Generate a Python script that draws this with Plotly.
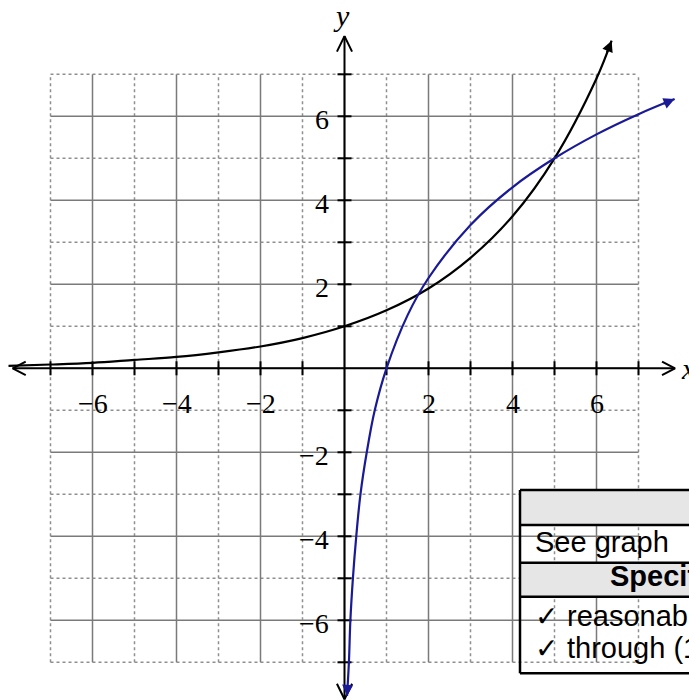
import plotly.graph_objects as go

# Exponential curve (black) and its inverse, the logarithm (blue)
exp_x = [-8.0, -7, -6, -5, -4, -3, -2, -1, 0, 1, 2, 3, 4, 5, 6, 6.36]
exp_y = [0.06, 0.09, 0.13, 0.2, 0.27, 0.38, 0.52, 0.72, 1.0, 1.38, 1.9, 2.63, 3.62, 5.0, 6.9, 7.8]

log_x = [0.06, 0.105, 0.14, 0.2, 0.28, 0.38, 0.53, 0.72, 1.0, 1.5, 2, 3, 4, 5, 6, 7, 7.86]
log_y = [-7.8, -7, -6, -5, -4, -3, -2, -1, 0, 1.26, 2.15, 3.41, 4.31, 5.0, 5.57, 6.05, 6.41]

grid_values = list(range(-7, 8))
x_tick_labels = [-6, -4, -2, 2, 4, 6]
y_tick_labels = [-6, -4, -2, 2, 4, 6]

table_rows = ["", "See graph", "Specific behaviours", ""]
table_checks = ["reasonable shape", "through (1, 0)"]

W, H = 689, 700
PX = 42.0            # pixels per unit
X0, Y0 = 344.5, 368.3

BLUE = "#1a1a96"
SERIF = "Liberation Serif, Times New Roman, serif"
SANS = "Liberation Sans, Arial, sans-serif"

fig = go.Figure()

# ---- grid: solid on even values, dotted on odd values
shapes = []
for v in grid_values:
    even = v % 2 == 0
    style = dict(color="#7a7a7a", width=1.5) if even else dict(color="#8f8f8f", width=1.5, dash="dot")
    shapes.append(dict(type="line", xref="x", yref="y", x0=v, x1=v, y0=-7, y1=7,
                       line=style, layer="below"))
    shapes.append(dict(type="line", xref="x", yref="y", x0=-7, x1=7, y0=v, y1=v,
                       line=style, layer="below"))

# ---- axes with open arrowheads
ax_kw = dict(mode="lines", line=dict(color="black", width=2), hoverinfo="skip", showlegend=False)
fig.add_trace(go.Scatter(x=[-7.9, 7.87], y=[0, 0], **ax_kw))
fig.add_trace(go.Scatter(x=[0, 0], y=[-7.88, 7.91], **ax_kw))
ah_x, ah_y = 0.31, 0.16
fig.add_trace(go.Scatter(x=[7.87 - ah_x, 7.87, 7.87 - ah_x], y=[ah_y, 0, -ah_y], **ax_kw))
fig.add_trace(go.Scatter(x=[-7.9 + ah_x, -7.9, -7.9 + ah_x], y=[ah_y, 0, -ah_y], **ax_kw))
fig.add_trace(go.Scatter(x=[-0.18, 0, 0.18], y=[7.91 - 0.37, 7.91, 7.91 - 0.37], **ax_kw))
fig.add_trace(go.Scatter(x=[-0.18, 0, 0.18], y=[-7.88 + 0.37, -7.88, -7.88 + 0.37], **ax_kw))

# tick marks at every integer
ticks = [v for v in grid_values if v != 0]
fig.add_trace(go.Scatter(x=ticks, y=[0] * len(ticks), mode="markers", hoverinfo="skip",
                         showlegend=False,
                         marker=dict(symbol="line-ns", size=10, line=dict(color="black", width=2))))
fig.add_trace(go.Scatter(x=[0] * len(ticks), y=ticks, mode="markers", hoverinfo="skip",
                         showlegend=False,
                         marker=dict(symbol="line-ew", size=10, line=dict(color="black", width=2))))

# ---- curves
fig.add_trace(go.Scatter(x=exp_x, y=exp_y, mode="lines", showlegend=False,
                         line=dict(color="black", width=2.2, shape="spline", smoothing=1.0)))
fig.add_trace(go.Scatter(x=log_x, y=log_y, mode="lines", showlegend=False,
                         line=dict(color=BLUE, width=2.2, shape="spline", smoothing=1.0)))

annotations = []


def curve_arrow(xs, ys, color, at_end=True):
    hx, hy = (xs[-1], ys[-1]) if at_end else (xs[0], ys[0])
    tx, ty = (xs[-2], ys[-2]) if at_end else (xs[1], ys[1])
    # short tail along the last segment
    tx = hx + (tx - hx) * 0.35
    ty = hy + (ty - hy) * 0.35
    annotations.append(dict(x=hx, y=hy, ax=tx, ay=ty, xref="x", yref="y", axref="x", ayref="y",
                            showarrow=True, arrowhead=2, arrowsize=1.1, arrowwidth=2,
                            arrowcolor=color, text="", standoff=0, startstandoff=0))


curve_arrow(exp_x, exp_y, "black", at_end=True)
curve_arrow(log_x, log_y, BLUE, at_end=True)
curve_arrow(log_x, log_y, BLUE, at_end=False)

# ---- tick labels
for v in x_tick_labels:
    annotations.append(dict(x=v, y=-0.83, xref="x", yref="y", text=str(v).replace("-", "\u2212"),
                            showarrow=False, xanchor="center", yanchor="middle",
                            font=dict(family=SERIF, size=28, color="black")))
for v in y_tick_labels:
    annotations.append(dict(x=-0.32, y=v - 0.07, xref="x", yref="y", text=str(v).replace("-", "\u2212"),
                            showarrow=False, xanchor="right", yanchor="middle",
                            font=dict(family=SERIF, size=28, color="black")))

# axis names
annotations.append(dict(x=(341 - X0) / PX, y=(Y0 - 15) / PX, xref="x", yref="y", text="<i>y</i>",
                        showarrow=False, xanchor="center", yanchor="middle",
                        font=dict(family=SERIF, size=30, color="black")))
annotations.append(dict(x=(679 - X0) / PX, y=(Y0 - 368) / PX, xref="x", yref="y", text="<i>x</i>",
                        showarrow=False, xanchor="left", yanchor="middle",
                        font=dict(family=SERIF, size=30, color="black")))


# ---- marking table (paper coordinates from pixel positions)
def px(xp):
    return xp / W


def py(yp):
    return 1 - yp / H


T_L, T_R = 520, 720
rows_y = [490, 525, 562.7, 596.7, 673.3]
for i, fill in enumerate(["#e6e6e6", None, "#e6e6e6", None]):
    if fill:
        shapes.append(dict(type="rect", xref="paper", yref="paper", x0=px(T_L), x1=px(T_R),
                           y0=py(rows_y[i + 1]), y1=py(rows_y[i]), fillcolor=fill,
                           line=dict(width=0), layer="above"))
for yl in rows_y:
    shapes.append(dict(type="line", xref="paper", yref="paper", x0=px(T_L), x1=px(T_R),
                       y0=py(yl), y1=py(yl), line=dict(color="black", width=2.5), layer="above"))
shapes.append(dict(type="line", xref="paper", yref="paper", x0=px(T_L), x1=px(T_L),
                   y0=py(rows_y[0]), y1=py(rows_y[-1]), line=dict(color="black", width=2.5),
                   layer="above"))

annotations.append(dict(x=px(533), y=py(542), xref="paper", yref="paper", text=table_rows[1],
                        showarrow=False, xanchor="left", yanchor="middle",
                        font=dict(family=SANS, size=29, color="black")))
annotations.append(dict(x=px(608), y=py(576), xref="paper", yref="paper",
                        text="<b>" + table_rows[2] + "</b>",
                        showarrow=False, xanchor="left", yanchor="middle",
                        font=dict(family=SANS, size=29, color="black")))
for i, txt in enumerate(table_checks):
    yc = [616, 648][i]
    annotations.append(dict(x=px(533), y=py(yc), xref="paper", yref="paper", text="\u2713",
                            showarrow=False, xanchor="left", yanchor="middle",
                            font=dict(family="DejaVu Sans, sans-serif", size=28, color="black")))
    annotations.append(dict(x=px(565), y=py(yc), xref="paper", yref="paper", text=txt,
                            showarrow=False, xanchor="left", yanchor="middle",
                            font=dict(family=SANS, size=29, color="black")))

fig.update_layout(
    width=W, height=H,
    margin=dict(l=0, r=0, t=0, b=0),
    paper_bgcolor="white", plot_bgcolor="white",
    xaxis=dict(range=[-X0 / PX, (W - X0) / PX], visible=False, fixedrange=True),
    yaxis=dict(range=[-(H - Y0) / PX, Y0 / PX], visible=False, fixedrange=True),
    shapes=shapes,
    annotations=annotations,
    showlegend=False,
)

fig.write_html("out.html")
